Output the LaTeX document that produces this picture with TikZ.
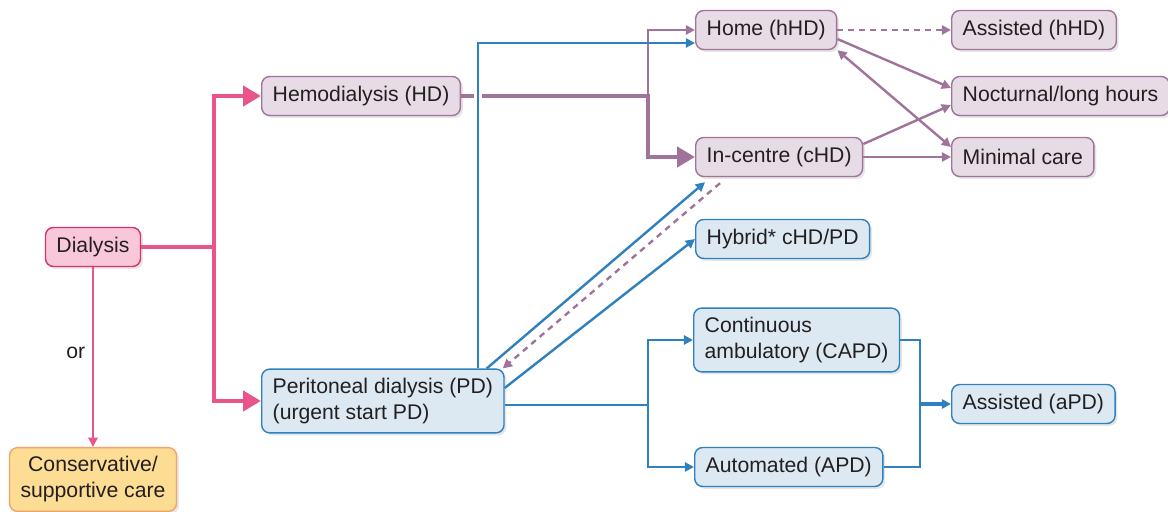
\documentclass[tikz,border=0pt]{standalone}
\usepackage{fontspec}
\setmainfont{Liberation Sans}
\usepackage{xcolor}
\usepackage{tikz}
\usetikzlibrary{shapes,arrows.meta,positioning,shadows}

\definecolor{textgray}{HTML}{231F20}
\definecolor{dialink}{HTML}{E8558A}
\definecolor{dialfill}{HTML}{F8C8DA}
\definecolor{dialborder}{HTML}{D6336B}
\definecolor{consfill}{HTML}{FDDC94}
\definecolor{consborder}{HTML}{F0A36B}
\definecolor{hdlink}{HTML}{A0749A}
\definecolor{hdfill}{HTML}{E7DCE5}
\definecolor{pdlink}{HTML}{2F80BE}
\definecolor{pdfill}{HTML}{DCE9F3}

\begin{document}
\begin{tikzpicture}[
    x=0.5pt, y=-0.5pt,
    font=\fontsize{10.6}{13}\selectfont,
    box/.style={rectangle, rounded corners=4pt, draw, line width=0.7pt, inner xsep=5.5pt, inner ysep=4.5pt, minimum height=19.5pt, text=textgray, drop shadow={shadow xshift=1.2pt, shadow yshift=-1.2pt, opacity=0.2}},
    dialbox/.style={box, draw=dialborder, fill=dialfill},
    consbox/.style={box, draw=consborder, fill=consfill, align=center},
    hdbox/.style={box, draw=hdlink, fill=hdfill},
    pdbox/.style={box, draw=pdlink, fill=pdfill, align=left},
    thinarrow/.style={-{Triangle[length=4.6pt,width=4.6pt]}},
    thickarrow/.style={-{Triangle[length=9pt,width=10pt]}},
    bothtips/.style={{Triangle[length=4.6pt,width=4.6pt]}-{Triangle[length=4.6pt,width=4.6pt]}},
    dialine/.style={draw=dialink, line width=1.2pt},
    dialthick/.style={draw=dialink, line width=2.3pt},
    hdline/.style={draw=hdlink, line width=1.2pt},
    hdthick/.style={draw=hdlink, line width=2.3pt},
    hddash/.style={hdline, dash pattern=on 3pt off 2.5pt},
    pdline/.style={draw=pdlink, line width=1.2pt},
]
\useasboundingbox (0,0) rectangle (1168,512);

\node[dialbox] (dia) at (93,247) {Dialysis};
\node[consbox] (cons) at (93,479.5) {Conservative/\\supportive care};
\node[hdbox, anchor=west] (hd) at (261,96) {Hemodialysis (HD)};
\node[pdbox, anchor=west] (pd) at (261,401) {Peritoneal dialysis (PD)\\(urgent start PD)};
\node[hdbox, anchor=west] (home) at (695,30) {Home (hHD)};
\node[hdbox, anchor=west] (chd) at (695,157) {In-centre (cHD)};
\node[pdbox, anchor=west] (hyb) at (695,239) {Hybrid* cHD/PD};
\node[pdbox, anchor=west] (capd) at (693,340) {Continuous\\ambulatory (CAPD)};
\node[pdbox, anchor=west] (apd) at (694,467) {Automated (APD)};
\node[hdbox, anchor=west] (ahhd) at (951,30) {Assisted (hHD)};
\node[hdbox, anchor=west] (noct) at (951,96) {Nocturnal/long hours};
\node[hdbox, anchor=west] (minc) at (951,157) {Minimal care};
\node[pdbox, anchor=west] (apdx) at (951,404) {Assisted (aPD)};

\coordinate (dsplit) at (214,247);
\coordinate (hsplit) at (648,96);
\coordinate (bup) at (478,43);
\coordinate (psplit) at (648,405);
\coordinate (amerge) at (920,404);

% dialysis or conservative care
\draw[dialthick, thickarrow] (dia.east) -- (dsplit) |- (hd.west);
\draw[dialthick, thickarrow] (dsplit) |- (pd.west);
\draw[dialine, thinarrow] (dia.south) -- (cons.north) node[midway, left, text=textgray, yshift=2pt] {or};

% hemodialysis
\draw[hdthick, thickarrow] (hd.east) -- (hsplit) |- (chd.west);
\draw[hdline, thinarrow] (hsplit) |- (home.west);
\draw[white, line width=4pt] (pd.north -| bup) -- (bup);
\draw[pdline, thinarrow] (pd.north -| bup) |- (bup -| home.west);

% switching between modalities
\draw[pdline, thinarrow] ([xshift=-9pt]pd.north east) -- ([xshift=5pt,yshift=-2.5pt]chd.south west);
\draw[hddash, thinarrow] ([xshift=12.5pt,yshift=-3pt]chd.south west) -- ([xshift=-1pt]pd.north east);
\draw[pdline, thinarrow] ([yshift=6.5pt]pd.east) -- (hyb.west);

% peritoneal dialysis
\draw[pdline] ([yshift=-2pt]pd.east) -- (psplit);
\draw[pdline, thinarrow] (psplit) |- (capd.west);
\draw[pdline, thinarrow] (psplit) |- (apd.west);
\draw[pdline] (capd.east) -| (amerge);
\draw[pdline] (apd.east) -| (amerge);
\draw[pdline, line width=1.6pt, thinarrow] (amerge) -- (apdx.west);

% hemodialysis options
\draw[hddash, thinarrow] (home.east) -- (ahhd.west);
\draw[hdline, thinarrow] ([yshift=-4.5pt]home.east) -- ([yshift=4pt]noct.west);
\draw[hdline, bothtips] (home.south east) -- ([yshift=5pt]minc.west);
\draw[hdline, thinarrow] ([yshift=6.5pt]chd.east) -- ([yshift=-4.5pt]noct.west);
\draw[hdline, thinarrow] (chd.east) -- (minc.west);

\end{tikzpicture}
\end{document}
